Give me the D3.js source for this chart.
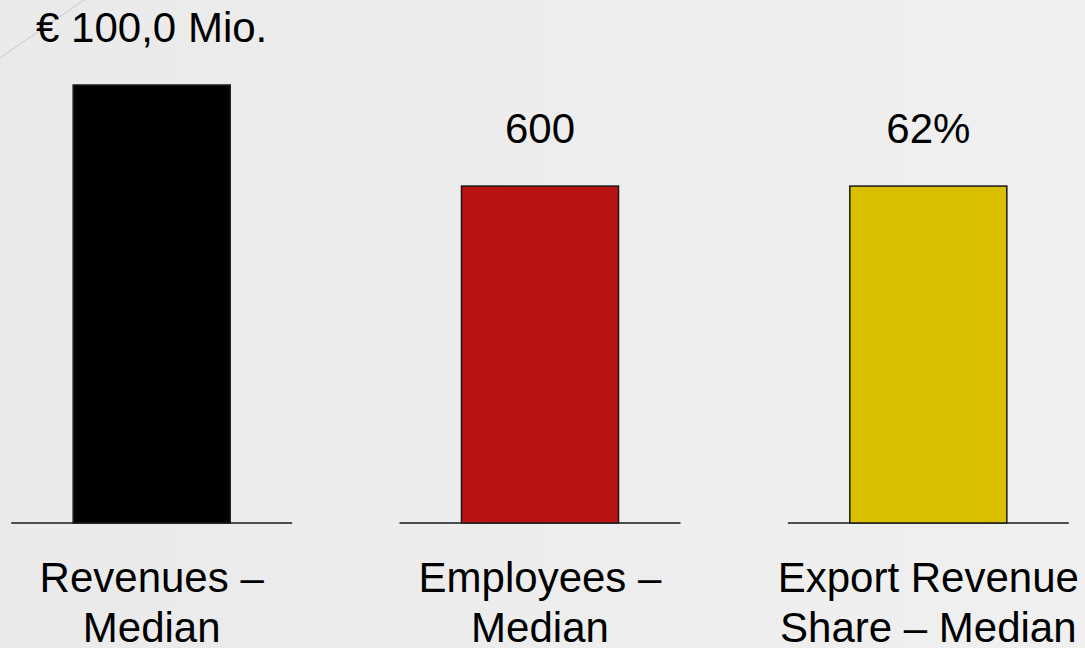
<!DOCTYPE html>
<html>
<head>
<meta charset="utf-8">
<script src="https://cdn.jsdelivr.net/npm/d3@7"></script>
<style>
  html, body { margin: 0; padding: 0; background: #ededed; }
  svg { display: block; }
  text { font-family: "Liberation Sans", Arial, sans-serif; fill: #000; }
</style>
</head>
<body>
<div id="chart"></div>
<script>
// data
const categories = ['Revenues', 'Employees', 'Export Revenue Share'];
const labelLines = [['Revenues –', 'Median'], ['Employees –', 'Median'], ['Export Revenue', 'Share – Median']];
const valueLabels = ['€ 100,0 Mio.', '600', '62%'];
// drawn bar heights relative to each other (infographic, not a shared unit)
const barLevels = [130, 100, 100];
const colors = ['#000000', '#b81414', '#d8bf00'];

const width = 1085;
const height = 648;
const baseY = 523;
const fontSize = 42;

const svg = d3.select('#chart')
  .append('svg')
  .attr('width', width)
  .attr('height', height)
  .attr('viewBox', `0 0 ${width} ${height}`);

// soft background
const defs = svg.append('defs');
const grad = defs.append('linearGradient')
  .attr('id', 'bg')
  .attr('x1', '0').attr('y1', '0').attr('x2', '1').attr('y2', '0');
grad.append('stop').attr('offset', '0%').attr('stop-color', '#eaeaea');
grad.append('stop').attr('offset', '100%').attr('stop-color', '#f0f0f0');

svg.append('rect')
  .attr('width', width)
  .attr('height', height)
  .attr('fill', 'url(#bg)');

// faint decorative diagonal at top-left
svg.append('line')
  .attr('x1', 0).attr('y1', 58)
  .attr('x2', 84).attr('y2', 0)
  .attr('stroke', '#c8c8c8')
  .attr('stroke-width', 1);

const xScale = d3.scaleBand()
  .domain(categories)
  .range([-4.5, 1084.5])
  .paddingInner(0.5956)
  .paddingOuter(0.2);

const yScale = d3.scaleLinear()
  .domain([0, 130])
  .range([baseY, 85]);

const groups = svg.selectAll('g.bar')
  .data(categories)
  .join('g')
  .attr('class', 'bar');

// baselines
groups.append('line')
  .attr('x1', d => xScale(d) + xScale.bandwidth() / 2 - 140.5)
  .attr('x2', d => xScale(d) + xScale.bandwidth() / 2 + 140.5)
  .attr('y1', baseY)
  .attr('y2', baseY)
  .attr('stroke', '#1a1a1a')
  .attr('stroke-width', 1.6);

// bars
groups.append('rect')
  .attr('x', d => xScale(d))
  .attr('y', (d, i) => yScale(barLevels[i]))
  .attr('width', xScale.bandwidth())
  .attr('height', (d, i) => baseY - yScale(barLevels[i]))
  .attr('fill', (d, i) => colors[i])
  .attr('stroke', '#1a1a1a')
  .attr('stroke-width', 1.5);

// value labels
groups.append('text')
  .attr('x', d => xScale(d) + xScale.bandwidth() / 2)
  .attr('y', (d, i) => yScale(barLevels[i]) - 43)
  .attr('text-anchor', 'middle')
  .attr('font-size', fontSize + 'px')
  .text((d, i) => valueLabels[i]);

// category labels, two lines
groups.append('text')
  .attr('text-anchor', 'middle')
  .attr('font-size', fontSize + 'px')
  .selectAll('tspan')
  .data((d, i) => labelLines[i].map(t => ({ t, c: d })))
  .join('tspan')
  .attr('x', d => xScale(d.c) + xScale.bandwidth() / 2)
  .attr('y', (d, j) => 592 + j * 50)
  .text(d => d.t);
</script>
</body>
</html>
